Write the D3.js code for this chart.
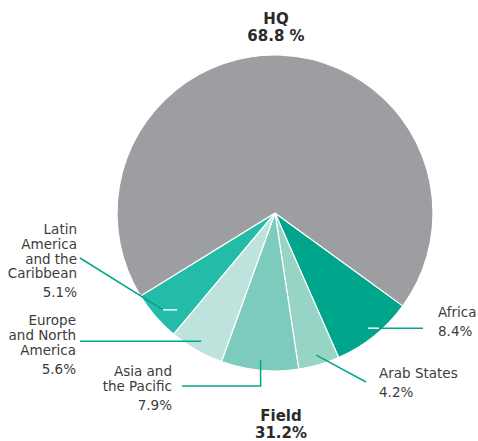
<!DOCTYPE html>
<html>
<head>
<meta charset="utf-8">
<script src="https://cdn.jsdelivr.net/npm/d3@7"></script>
<style>
  body { margin: 0; background: #fff; }
  text { font-family: "DejaVu Sans", "Liberation Sans", sans-serif; }
</style>
</head>
<body>
<div class="chart"></div>
<script>
// slices, clockwise from the HQ/Africa boundary
const regions = ['Africa', 'Arab States', 'Asia and the Pacific', 'Europe and North America', 'Latin America and the Caribbean', 'HQ'];
const shares = [8.4, 4.2, 7.9, 5.6, 5.1, 68.8];
const colors = ['#00a68b', '#97d4c6', '#7ccbbd', '#bde3dc', '#22bca8', '#9c9ea1'];
const labelLines = [['Africa'], ['Arab States'], ['Asia and', 'the Pacific'], ['Europe', 'and North', 'America'], ['Latin', 'America', 'and the', 'Caribbean'], null];
const pctLabels = ['8.4%', '4.2%', '7.9%', '5.6%', '5.1%', null];

const width = 478, height = 441;
const cx = 275, cy = 213, r = 158;

const svg = d3.select('.chart').append('svg').attr('width', width).attr('height', height);
const g = svg.append('g').attr('transform', `translate(${cx},${cy})`);

const start = 0.7 * Math.PI;
const pie = d3.pie().sort(null).value(d => d).startAngle(start).endAngle(start + 2 * Math.PI);
const arcs = pie(shares);
const arc = d3.arc().innerRadius(0).outerRadius(r);

g.selectAll('path.slice')
  .data(arcs)
  .enter()
  .append('path')
  .attr('class', 'slice')
  .attr('d', arc)
  .attr('fill', (d, i) => colors[i])
  .attr('stroke', '#fff')
  .attr('stroke-width', 1.2);

// anchor point inside each slice on its mid angle
const anchor = d => {
  const a = (d.startAngle + d.endAngle) / 2;
  return [cx + Math.sin(a) * 148, cy - Math.cos(a) * 148];
};

// leader routes: label end point(s) -> anchor, plus white tick inside slice
const leaders = [
  { pts: a => [[423, a[1]], [a[0] + 11, a[1]]], white: a => [[a[0] + 11, a[1]], [a[0], a[1]]] },
  { pts: a => [[366, 382], a] },
  { pts: a => [[182, 386], [a[0], 386], a] },
  { pts: a => [[80, a[1]], a] },
  { pts: a => [[80, 258], a], white: a => [a, [a[0] + 14, a[1]]] },
  null
];

const line = d3.line();
arcs.forEach((d, i) => {
  const L = leaders[i];
  if (!L) return;
  const a = anchor(d);
  svg.append('path').attr('d', line(L.pts(a))).attr('fill', 'none')
    .attr('stroke', '#00a68b').attr('stroke-width', 1.5);
  if (L.white) {
    svg.append('path').attr('d', line(L.white(a))).attr('fill', 'none')
      .attr('stroke', '#fff').attr('stroke-width', 1.5);
  }
});

// region labels
const labelPos = [
  { x: 438, y: 317, anchor: 'start' },
  { x: 379, y: 378, anchor: 'start' },
  { x: 172, y: 376, anchor: 'end' },
  { x: 76, y: 325, anchor: 'end' },
  { x: 77, y: 234, anchor: 'end' }
];
labelPos.forEach((p, i) => {
  const t = svg.append('text')
    .attr('x', p.x).attr('y', p.y)
    .attr('text-anchor', p.anchor)
    .attr('font-size', 13.5)
    .attr('fill', '#3c3c3c');
  labelLines[i].forEach((s, j) => {
    t.append('tspan').attr('x', p.x).attr('dy', j ? 14.8 : 0).text(s);
  });
  t.append('tspan').attr('x', p.x).attr('dy', 19).text(pctLabels[i]);
});

// group headers
const heads = [
  { x: 276, y: 23.5, lines: ['HQ', '68.8 %'] },
  { x: 281, y: 420.5, lines: ['Field', '31.2%'] }
];
heads.forEach(h => {
  const t = svg.append('text')
    .attr('x', h.x).attr('y', h.y)
    .attr('text-anchor', 'middle')
    .attr('font-size', 15)
    .attr('font-weight', 'bold')
    .attr('fill', '#2a2a2a');
  h.lines.forEach((s, j) => t.append('tspan').attr('x', h.x).attr('dy', j ? 17.5 : 0).text(s));
});
</script>
</body>
</html>
